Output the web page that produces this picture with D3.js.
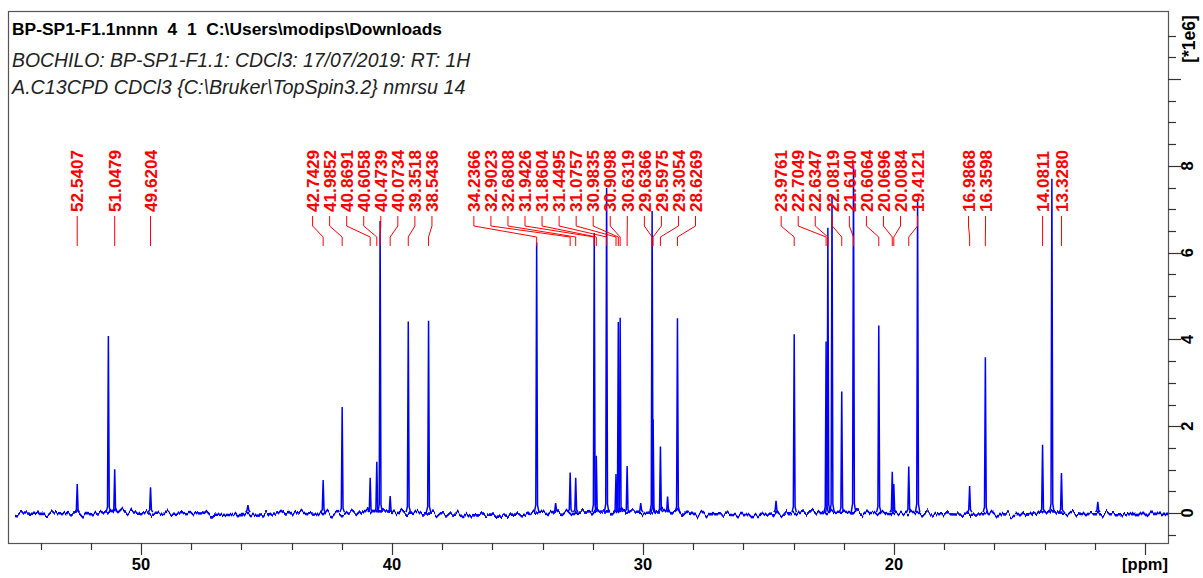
<!DOCTYPE html>
<html>
<head>
<meta charset="utf-8">
<script src="https://cdn.jsdelivr.net/npm/d3@7"></script>
<style>
  body { margin: 0; background: #fff; }
  svg { display: block; }
</style>
</head>
<body>
<svg id="chart" width="1203" height="578"></svg>
<script>
// ---- 13C CPD spectrum in CDCl3: picked peaks (ppm) and intensities (x1e6) ----
const peakPpm = [
  52.5407, 51.0479, 49.6204,
  42.7429, 41.9852, 40.8691, 40.6058, 40.4739, 40.0734, 39.3518, 38.5436,
  34.2366, 32.9023, 32.6808, 31.9426, 31.8604, 31.4495, 31.0757, 30.9835, 30.9098,
  30.6319, 29.6366, 29.5975, 29.3054, 28.6269,
  23.9761, 22.7049, 22.6347, 22.0819, 21.6140, 20.6064, 20.0696, 20.0084, 19.4121,
  16.9868, 16.3598, 14.0811, 13.3280
];
const peakHeight = [
  0.67, 1.01, 0.59,
  0.76, 2.44, 0.81, 1.18, 6.73, 0.39, 4.41, 4.43,
  6.23, 0.93, 0.81, 6.45, 1.32, 7.49, 0.90, 4.40, 4.50,
  1.08, 6.96, 2.16, 1.53, 4.49,
  4.12, 3.95, 6.57, 2.80, 8.02, 4.32, 0.95, 0.67, 1.07,
  0.62, 3.59, 1.57, 0.92
];
// signals present in the trace but absent from the peak list
const extraPpm    = [51.30, 45.74, 33.48, 30.09, 29.02, 24.70, 22.47, 19.06, 13.71, 11.88];
const extraHeight = [4.08, 0.18, 0.23, 0.23, 0.38, 0.28, 7.29, 7.23, 7.70, 0.26];

// slow baseline drift, one reading per ppm (x1e6)
const baselinePpm = d3.range(55, 8, -1);
const baselineVal = [
  0.00, -0.02, 0.00, -0.03, 0.05, 0.00, -0.02, 0.00, -0.04, -0.05,
  -0.03, 0.02, -0.02, -0.03, 0.05, 0.03, 0.00, -0.03, -0.05, -0.06,
  -0.06, 0.03, 0.00, 0.02, 0.05, 0.00, 0.05, -0.02, -0.03, -0.05,
  -0.04, 0.00, 0.02, 0.03, 0.00, 0.00, 0.00, -0.03, -0.04, -0.02,
  -0.05, 0.02, 0.00, -0.03, -0.03, -0.02, -0.02
];

// axis ticks
const xMajor = [50, 40, 30, 20, 10];
const xMinor = d3.range(54, 9, -2);
const yMajor = [0, 2, 4, 6, 8, 10];
const yMinor = d3.range(-0.5, 11.01, 0.5);

const headerBold = "BP-SP1-F1.1nnnn  4  1  C:\\Users\\modips\\Downloads";
const headerLines = [
  "BOCHILO: BP-SP1-F1.1: CDCl3: 17/07/2019: RT: 1H",
  "A.C13CPD CDCl3 {C:\\Bruker\\TopSpin3.2} nmrsu 14"
];
const headerSizes = [19.4, 19.7];

// ---- layout ----
const frame = { left: 8, right: 1168, top: 11, bottom: 543 };
const x = d3.scaleLinear().domain([50, 10]).range([141, 1145]);
const y = d3.scaleLinear().domain([0, 10]).range([513, 79]);

const FONT = "'Liberation Sans', Arial, Helvetica, sans-serif";
const svg = d3.select("#chart");

// header text
svg.append("text")
  .attr("x", 12).attr("y", 35)
  .style("white-space", "pre")
  .attr("font-family", FONT).attr("font-size", 17.4).attr("font-weight", "bold")
  .attr("fill", "#000")
  .text(headerBold);
svg.selectAll("text.hdr").data(headerLines).join("text")
  .attr("class", "hdr")
  .attr("x", 12).attr("y", (d, i) => 67 + i * 26.5)
  .attr("font-family", FONT).attr("font-size", (d, i) => headerSizes[i]).attr("font-style", "italic")
  .attr("fill", "#222")
  .text(d => d);

// frame
svg.append("rect")
  .attr("x", frame.left + 0.5).attr("y", frame.top + 0.5)
  .attr("width", frame.right - frame.left).attr("height", frame.bottom - frame.top)
  .attr("fill", "none").attr("stroke", "#555").attr("stroke-width", 1.2);

// noise texture for the baseline trace
const defs = svg.append("defs");
const flt = defs.append("filter").attr("id", "jitter")
  .attr("filterUnits", "userSpaceOnUse")
  .attr("x", 0).attr("y", 480).attr("width", 1203).attr("height", 70);
flt.append("feTurbulence")
  .attr("type", "fractalNoise").attr("baseFrequency", "0.2 0.004")
  .attr("numOctaves", 3).attr("seed", 7).attr("result", "noise");
flt.append("feDisplacementMap")
  .attr("in", "SourceGraphic").attr("in2", "noise")
  .attr("scale", 13).attr("xChannelSelector", "G").attr("yChannelSelector", "R");
defs.append("clipPath").attr("id", "plotClip")
  .append("rect")
  .attr("x", frame.left + 1).attr("y", frame.top + 1)
  .attr("width", frame.right - frame.left - 1).attr("height", frame.bottom - frame.top - 1);

const plot = svg.append("g").attr("clip-path", "url(#plotClip)");

// baseline trace
const baseData = baselinePpm.map((p, i) => [p, baselineVal[i]]);
const baseLine = d3.line().x(d => x(d[0])).y(d => y(d[1])).curve(d3.curveMonotoneX);
plot.append("path")
  .datum(baseData)
  .attr("fill", "none").attr("stroke", "#0000ff").attr("stroke-width", 2.6)
  .attr("filter", "url(#jitter)")
  .attr("d", baseLine);

// peaks as narrow lines from the baseline
const allPeaks = peakPpm.map((p, i) => ({ ppm: p, h: peakHeight[i] }))
  .concat(extraPpm.map((p, i) => ({ ppm: p, h: extraHeight[i] })));
const halfWidth = 0.035;
plot.selectAll("path.peak").data(allPeaks).join("path")
  .attr("class", "peak")
  .attr("fill", "none").attr("stroke", "#0000ff").attr("stroke-width", 1.5)
  .attr("stroke-linejoin", "miter")
  .attr("d", d => d3.line()([
    [x(d.ppm + 2.5 * halfWidth), y(0.02)],
    [x(d.ppm + halfWidth), y(0.06 + d.h * 0.02)],
    [x(d.ppm), y(d.h)],
    [x(d.ppm - halfWidth), y(0.06 + d.h * 0.02)],
    [x(d.ppm - 2.5 * halfWidth), y(0.02)]
  ]));

// ---- x axis ----
const xAxis = svg.append("g");
xAxis.selectAll("line.minor").data(xMinor.filter(v => xMajor.indexOf(v) < 0)).join("line")
  .attr("x1", d => Math.round(x(d)) + 0.5).attr("x2", d => Math.round(x(d)) + 0.5)
  .attr("y1", frame.bottom).attr("y2", frame.bottom + 7)
  .attr("stroke", "#333").attr("stroke-width", 1.2);
xAxis.selectAll("line.major").data(xMajor).join("line")
  .attr("x1", d => Math.round(x(d)) + 0.5).attr("x2", d => Math.round(x(d)) + 0.5)
  .attr("y1", frame.bottom).attr("y2", frame.bottom + 12)
  .attr("stroke", "#333").attr("stroke-width", 1.2);
xAxis.selectAll("text").data(xMajor).join("text")
  .attr("x", d => x(d)).attr("y", 570)
  .attr("text-anchor", "middle")
  .attr("font-family", FONT).attr("font-size", 16.5).attr("font-weight", "bold")
  .text(d => d === 10 ? "[ppm]" : d);

// ---- y axis (right) ----
const yAxis = svg.append("g");
yAxis.selectAll("line.minor").data(yMinor.filter(v => yMajor.indexOf(v) < 0)).join("line")
  .attr("x1", frame.right).attr("x2", frame.right + 8)
  .attr("y1", d => Math.round(y(d)) + 0.5).attr("y2", d => Math.round(y(d)) + 0.5)
  .attr("stroke", "#333").attr("stroke-width", 1.2);
yAxis.selectAll("line.major").data(yMajor).join("line")
  .attr("x1", frame.right).attr("x2", frame.right + 13)
  .attr("y1", d => Math.round(y(d)) + 0.5).attr("y2", d => Math.round(y(d)) + 0.5)
  .attr("stroke", "#333").attr("stroke-width", 1.2);
yAxis.selectAll("text").data(yMajor.filter(v => v < 10)).join("text")
  .attr("transform", d => `translate(1187,${y(d)}) rotate(-90)`)
  .attr("text-anchor", "middle").attr("dy", "0.36em")
  .attr("font-family", FONT).attr("font-size", 16.5).attr("font-weight", "bold")
  .text(d => d);
yAxis.append("text")
  .attr("transform", `translate(1189,39) rotate(-90)`)
  .attr("text-anchor", "middle").attr("dy", "0.36em")
  .attr("font-family", FONT).attr("font-size", 17.5).attr("font-weight", "bold")
  .text("[*1e6]");

// ---- peak labels with leader lines ----
const GAP = 17.05;
const LEAN = 0.37; // crowded groups lean toward higher ppm (left)
const labels = peakPpm.map((p, i) => ({ ppm: p, text: p.toFixed(4), px: x(p) }))
  .sort((a, b) => a.px - b.px);
// group overlapping labels and spread each group evenly around its peaks
let groups = labels.map(l => [l]);
const place = g => {
  const mean = d3.mean(g, l => l.px);
  const span = (g.length - 1) * GAP;
  const peakSpan = g[g.length - 1].px - g[0].px;
  const start = mean - span / 2 - LEAN * Math.max(0, span - peakSpan);
  g.forEach((l, k) => { l.lx = start + k * GAP; });
};
groups.forEach(place);
let merged = true;
while (merged) {
  merged = false;
  for (let i = 0; i < groups.length - 1; i++) {
    const a = groups[i], b = groups[i + 1];
    if (a[a.length - 1].lx + GAP > b[0].lx) {
      groups.splice(i, 2, a.concat(b));
      place(groups[i]);
      merged = true;
      break;
    }
  }
}

const lab = svg.append("g");
lab.selectAll("path").data(labels).join("path")
  .attr("fill", "none").attr("stroke", "#ff0000").attr("stroke-width", 1)
  .attr("d", d => d3.line()([
    [d.lx, 216], [d.lx, 226], [d.px, 237], [d.px, 246]
  ]));
lab.selectAll("text").data(labels).join("text")
  .attr("transform", d => `translate(${d.lx},212) rotate(-90)`)
  .attr("dy", "0.36em")
  .attr("font-family", FONT).attr("font-size", 17.2).attr("font-weight", "bold")
  .attr("fill", "#ff0000")
  .text(d => d.text);
</script>
</body>
</html>
